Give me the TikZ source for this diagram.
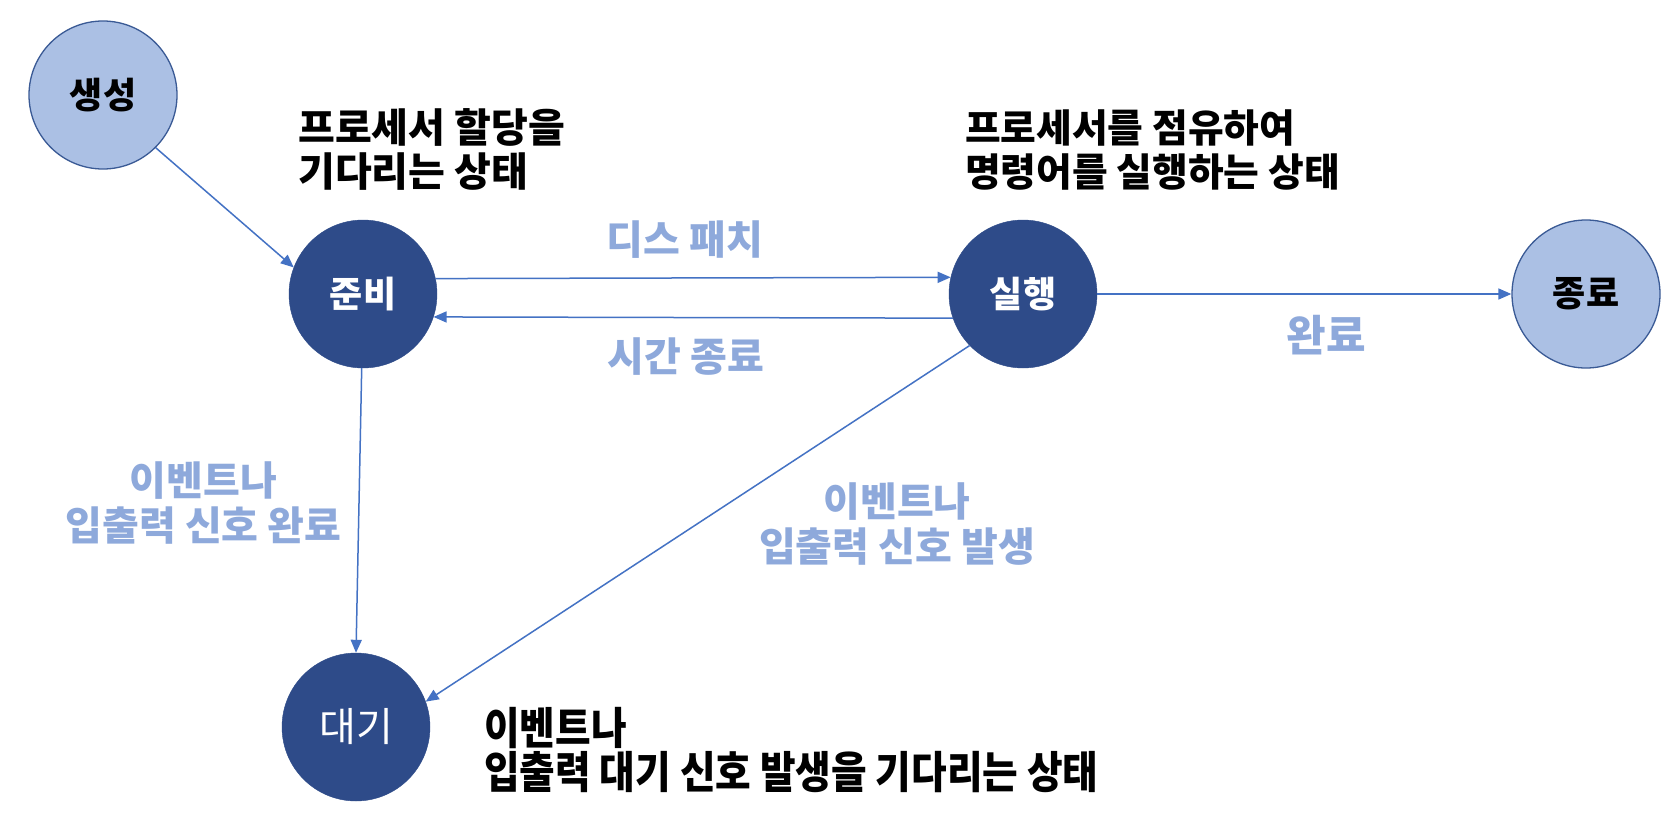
\documentclass[tikz,border=0pt]{standalone}
\usepackage{fontspec}
\usetikzlibrary{arrows.meta}
\newfontfamily\krc[FakeStretch=0.88]{Noto Sans CJK KR}
\newfontfamily\krn{Noto Sans CJK KR}
\definecolor{darkfill}{HTML}{2E4B89}
\definecolor{lightfill}{HTML}{ABC0E4}
\definecolor{lightedge}{HTML}{3A5A95}
\definecolor{arrowblue}{HTML}{4472C4}
\definecolor{labelblue}{HTML}{8EA9DB}
\tikzset{
  darkstate/.style={circle, minimum size=148pt, inner sep=0pt, fill=darkfill, draw=darkfill, text=white, font=\krn\bfseries\fontsize{36}{40}\selectfont},
  lightstate/.style={circle, minimum size=148pt, inner sep=0pt, fill=lightfill, draw=lightedge, line width=1.3pt, text=black, font=\krn\bfseries\fontsize{36}{40}\selectfont},
  arr/.style={draw=arrowblue, line width=1.5pt, -{Triangle[length=13pt,width=11pt]}},
  bluelbl/.style={inner sep=0pt, text=labelblue, align=center, font=\krn\bfseries\fontsize{40}{45}\selectfont},
  note/.style={inner sep=0pt, text=black, align=left, anchor=west},
}
\begin{document}
\begin{tikzpicture}[x=1pt, y=-1pt]
\useasboundingbox[fill=white] (0,0) rectangle (1674,822);
% states
\node[lightstate] (sc) at (103,95) {생성};
\node[darkstate] (jb) at (363,294) {준비};
\node[darkstate] (sh) at (1023,294) {실행};
\node[lightstate] (jy) at (1586,294) {종료};
\node[darkstate, font=\krn\fontsize{40}{44}\selectfont] (dg) at (356,727) {대기};
% connectors
\draw[arr] (sc.-45) -- (jb.159);
\draw[arr] (jb.12.5) -- (sh.167.5);
\draw[arr] (sh.-161.9) -- (jb.-18.1);
\draw[arr] (sh.east) -- (jy.west);
\draw[arr] (jb.-91) -- (dg.north);
\draw[arr] (sh.224) -- (dg.20.7);
% edge labels
\node[bluelbl, font=\krn\bfseries\fontsize{40}{45}\selectfont] (l1) at (685,240) {디스 패치};
\node[bluelbl, font=\krn\bfseries\fontsize{40}{45}\selectfont] (l2) at (686,357) {시간 종료};
\node[bluelbl, font=\krn\bfseries\fontsize{43}{45}\selectfont] (l3) at (1326,335) {완료};
\node[bluelbl] (l4) at (203.5,502.5) {이벤트나\\입출력 신호 완료};
\node[bluelbl] (l5) at (897,524.5) {이벤트나\\입출력 신호 발생};
% state descriptions
\node[note, font=\krn\bfseries\fontsize{40}{44}\selectfont] (n1) at (298,149.5) {프로세서 할당을\\기다리는 상태};
\node[note, font=\krn\bfseries\fontsize{38.8}{44}\selectfont] (n2) at (965,150) {프로세서를 점유하여\\명령어를 실행하는 상태};
\node[note, font=\krc\bfseries\fontsize{44}{44}\selectfont] (n3) at (484,750) {이벤트나\\입출력 대기 신호 발생을 기다리는 상태};
\end{tikzpicture}
\end{document}
